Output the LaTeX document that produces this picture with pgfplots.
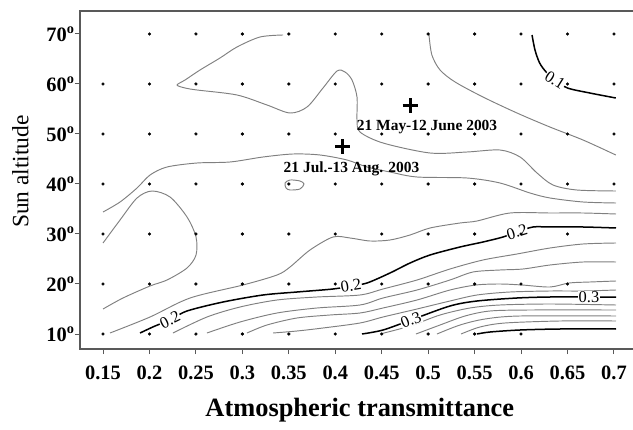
\documentclass[border=0pt]{standalone}
\usepackage{fontspec}
\setmainfont{Liberation Serif}
\usepackage{pgfplots}
\pgfplotsset{compat=1.18}

\begin{document}
\begin{tikzpicture}
\path[use as bounding box] (-80bp,-81bp) rectangle (553bp,349bp);
\begin{axis}[
  at={(0,0)}, anchor=south west,
  width=553bp, height=338bp, scale only axis,
  xmin=0.1252, xmax=0.7205, ymin=7, ymax=74.6,
  axis line style={draw=none},
  xtick pos=bottom, ytick pos=left,
  tick align=outside, major tick length=5bp,
  tick style={black!65, line width=1bp},
  xtick={0.15,0.2,0.25,0.3,0.35,0.4,0.45,0.5,0.55,0.6,0.65,0.7},
  xticklabels={0.15,0.2,0.25,0.3,0.35,0.4,0.45,0.5,0.55,0.6,0.65,0.7},
  ytick={10,20,30,40,50,60,70},
  yticklabels={10\textsuperscript{o},20\textsuperscript{o},30\textsuperscript{o},40\textsuperscript{o},50\textsuperscript{o},60\textsuperscript{o},70\textsuperscript{o}},
  ticklabel style={font=\fontsize{20.5}{23}\selectfont\bfseries},
  yticklabel style={xshift=3bp},
  xticklabel style={yshift=-8bp},
  xlabel={Atmospheric transmittance},
  ylabel={Sun altitude},
  every axis x label/.style={at={(axis description cs:0.506,-0.18)},anchor=center,font=\fontsize{26.5}{29}\selectfont\bfseries},
  every axis y label/.style={at={(axis description cs:-0.108,0.525)},rotate=90,anchor=center,font=\fontsize{23.5}{26}\selectfont},
  clip=false,
]
% grid points
\addplot[only marks, mark=*, mark size=1.4bp, black] coordinates {
  (0.15,10)(0.2,10)(0.25,10)(0.3,10)(0.35,10)(0.4,10)(0.45,10)(0.5,10)(0.55,10)(0.6,10)
  (0.15,20)(0.2,20)(0.25,20)(0.3,20)(0.35,20)(0.4,20)(0.45,20)(0.5,20)(0.55,20)(0.6,20)(0.65,20)
  (0.15,30)(0.2,30)(0.25,30)(0.3,30)(0.35,30)(0.4,30)(0.45,30)(0.5,30)(0.55,30)(0.6,30)(0.65,30)
  (0.15,40)(0.2,40)(0.25,40)(0.3,40)(0.35,40)(0.4,40)(0.45,40)(0.5,40)(0.55,40)(0.6,40)(0.65,40)(0.7,40)
  (0.15,50)(0.2,50)(0.25,50)(0.3,50)(0.35,50)(0.4,50)(0.45,50)(0.5,50)(0.55,50)(0.6,50)(0.65,50)(0.7,50)
  (0.15,60)(0.2,60)(0.25,60)(0.3,60)(0.35,60)(0.4,60)(0.45,60)(0.5,60)(0.55,60)(0.6,60)(0.65,60)(0.7,60)
  (0.2,70)(0.25,70)(0.3,70)(0.35,70)(0.4,70)(0.45,70)(0.5,70)(0.55,70)(0.6,70)(0.65,70)(0.7,70)};

% contour lines
\pgfplotsset{thin contour/.style={black!50, line width=0.95bp, smooth, no marks},
             thick contour/.style={black, line width=1.5bp, smooth, no marks}}
% 0.10
\addplot[thick contour] coordinates {(0.6118,69.8)(0.615,66.8)(0.620,64.2)(0.627,62.4)(0.6366,60.8)(0.650,59.2)(0.674,58.2)(0.702,57.2)};
% 0.12
\addplot[thin contour] coordinates {(0.5009,69.8)(0.504,65.8)(0.5128,62.8)(0.529,60.4)(0.559,57.4)(0.5956,54.2)(0.631,51.4)(0.6667,48.8)(0.702,45.8)};
% 0.14
\addplot[thin contour] coordinates {(0.3438,69.8)(0.319,69.4)(0.2942,67.4)(0.2759,65.2)(0.2544,62.8)(0.2383,60.8)(0.2297,59.8)(0.2383,59.2)(0.2512,58.8)(0.2942,57.8)(0.3265,55.8)(0.3513,54.2)(0.3696,55.4)(0.3868,59.2)(0.4019,62.6)(0.4105,62.4)(0.418,60.8)(0.4234,57.4)(0.4234,52.8)(0.4266,50.4)(0.4514,48.2)(0.502,46.2)(0.5418,46.4)(0.5773,46.8)(0.5989,45.4)(0.6172,42.2)(0.6344,39.8)(0.66,38.8)(0.702,38.6)};
% 0.16
\addplot[thin contour] coordinates {(0.15,34.4)(0.1683,36.4)(0.1866,39.2)(0.2006,41.8)(0.2189,43.4)(0.2512,44.2)(0.2867,44.4)(0.3222,45.4)(0.3545,46.0)(0.3836,45.8)(0.4126,44.8)(0.4342,43.4)(0.4589,42.4)(0.488,41.4)(0.5418,41.2)(0.5773,40.2)(0.6096,38.2)(0.6312,37.2)(0.6667,36.4)(0.7022,36.2)};
\addplot[thin contour] coordinates {(0.15,28.2)(0.1683,32.8)(0.1866,37.2)(0.2027,38.6)(0.2221,37.4)(0.2404,33.4)(0.2501,29.4)(0.2501,25.8)(0.2404,23.2)(0.2189,20.8)(0.2006,19.6)(0.1715,17.2)(0.15,15.0)};
\addplot[thin contour, smooth cycle] coordinates {(0.3459,40.2)(0.3513,40.8)(0.362,40.6)(0.3663,40.0)(0.362,39.0)(0.3513,38.8)(0.3470,39.2)};
% 0.18
\addplot[thin contour] coordinates {(0.1575,10.2)(0.2006,13.4)(0.2437,17.2)(0.3007,19.8)(0.3373,21.8)(0.3513,23.4)(0.3728,26.8)(0.3976,29.4)(0.4159,29.2)(0.4374,28.6)(0.4589,28.8)(0.4805,29.8)(0.502,31.2)(0.5343,32.2)(0.5526,32.6)(0.5881,34.2)(0.6312,34.2)(0.6667,34.2)(0.7022,34.0)};
% 0.20
\addplot[thick contour] coordinates {(0.1898,10.2)(0.206,11.6)(0.2221,12.8)(0.2404,14.6)(0.2792,16.4)(0.3222,17.8)(0.3588,18.4)(0.3976,19.0)(0.4169,19.6)(0.4342,20.2)(0.4589,22.2)(0.4805,24.2)(0.502,25.8)(0.5343,27.4)(0.559,28.4)(0.5806,29.4)(0.5956,30.4)(0.6128,31.4)(0.6312,31.4)(0.6667,31.4)(0.7022,31.2)};
% 0.22
\addplot[thin contour] coordinates {(0.2253,10.2)(0.2619,13.4)(0.2975,15.4)(0.3373,16.8)(0.3803,17.4)(0.4266,17.8)(0.4514,19.0)(0.4880,20.8)(0.5235,23.0)(0.5590,24.8)(0.5956,26.0)(0.6312,27.2)(0.6667,28.0)(0.7022,28.2)};
% 0.24
\addplot[thin contour] coordinates {(0.2619,10.2)(0.2975,12.4)(0.3373,14.2)(0.3803,15.2)(0.4266,15.8)(0.4514,17.2)(0.4880,18.8)(0.5235,20.8)(0.5483,22.4)(0.5773,22.8)(0.6021,23.0)(0.6312,23.8)(0.6667,24.4)(0.7022,24.4)};
% 0.26
\addplot[thin contour] coordinates {(0.3050,10.2)(0.3265,11.8)(0.3588,13.2)(0.3943,13.8)(0.4266,14.2)(0.4514,15.2)(0.4880,16.8)(0.5235,18.8)(0.5515,19.8)(0.5773,20.0)(0.6010,19.8)(0.6312,19.4)(0.6516,20.2)(0.6742,20.4)(0.7022,20.6)};
% 0.28
\addplot[thin contour] coordinates {(0.3330,10.2)(0.3588,10.6)(0.3868,11.2)(0.4266,12.2)(0.4514,13.4)(0.4880,15.0)(0.5235,16.6)(0.5526,17.8)(0.5881,18.4)(0.6312,18.6)(0.6667,18.6)(0.7022,18.8)};
% 0.30
\addplot[thick contour] coordinates {(0.4288,10.0)(0.4514,10.8)(0.4815,12.8)(0.5235,15.6)(0.5526,16.6)(0.5956,17.2)(0.6312,17.4)(0.6731,17.4)(0.7022,17.4)};
% 0.32 - 0.38
\addplot[thin contour] coordinates {(0.4482,10.0)(0.4805,11.6)(0.5128,13.8)(0.5450,15.2)(0.5773,15.8)(0.6312,16.0)(0.7022,15.8)};
\addplot[thin contour] coordinates {(0.4869,10.0)(0.5128,11.8)(0.5397,13.6)(0.5666,14.6)(0.6096,14.8)(0.7022,14.8)};
\addplot[thin contour] coordinates {(0.5095,10.0)(0.5343,11.8)(0.5612,13.0)(0.5989,13.6)(0.7022,13.6)};
\addplot[thin contour] coordinates {(0.5354,10.0)(0.5558,11.4)(0.5827,12.2)(0.6419,12.6)(0.7022,12.6)};
% 0.40
\addplot[thick contour] coordinates {(0.5526,10.0)(0.5666,10.4)(0.5989,10.8)(0.6419,11.0)(0.7022,11.0)};

% contour labels
\tikzset{clab/.style={fill=white, inner sep=0.6bp, font=\fontsize{16.5}{16.5}\selectfont}}
\node[clab, rotate=-32] at (axis cs:0.6366,60.8) {0.1};
\node[clab, rotate=26] at (axis cs:0.2221,12.8) {0.2};
\node[clab, rotate=9] at (axis cs:0.4169,19.6) {0.2};
\node[clab, rotate=17] at (axis cs:0.5956,30.4) {0.2};
\node[clab, rotate=22] at (axis cs:0.4815,12.8) {0.3};
\node[clab] at (axis cs:0.6731,17.4) {0.3};

% measurement periods
\addplot[only marks, mark=+, mark size=7.5bp, black, mark options={line width=3bp}] coordinates {(0.4805,55.6)(0.4083,47.4)};
\node[font=\fontsize{15.5}{17}\selectfont\bfseries] at (axis cs:0.4988,51.4) {21 May-12 June 2003};
\node[font=\fontsize{15.5}{17}\selectfont\bfseries] at (axis cs:0.4175,43.0) {21 Jul.-13 Aug. 2003};
\end{axis}
\draw[black!65, line width=1.3bp] (553bp,338bp) -- (0,338bp) -- (0,0) -- (553bp,0);
\end{tikzpicture}
\end{document}
